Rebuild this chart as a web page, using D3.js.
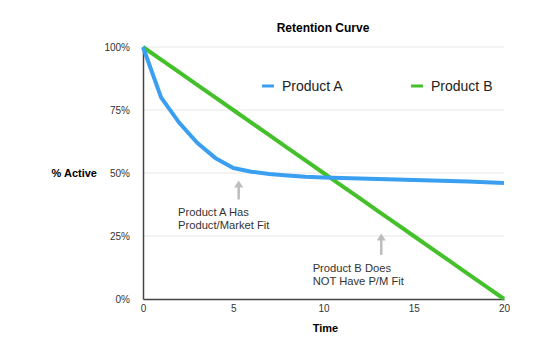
<!DOCTYPE html>
<html>
<head>
<meta charset="utf-8">
<script src="https://cdn.jsdelivr.net/npm/d3@7"></script>
<style>
  body { margin: 0; background: #fff; }
  text { font-family: "Liberation Sans", Arial, sans-serif; }
</style>
</head>
<body>
<script>
// Time steps and retention values (%)
var times = d3.range(0, 21);
var productA = [100, 80, 70, 62, 56, 52, 50.5, 49.6, 49, 48.5, 48.2, 48, 47.8, 47.6, 47.4, 47.2, 47, 46.8, 46.6, 46.3, 46];
var productB = [100, 95, 90, 85, 80, 75, 70, 65, 60, 55, 50, 45, 40, 35, 30, 25, 20, 15, 10, 5, 0];
var xTicks = [0, 5, 10, 15, 20];
var yTicks = [0, 25, 50, 75, 100];
var seriesNames = ['Product A', 'Product B'];
var seriesColors = ['#3a9ff0', '#44c12a'];

var width = 540, height = 343;
var margin = {top: 47, right: 36, bottom: 44, left: 143};

var svg = d3.select('body').append('svg')
  .attr('width', width)
  .attr('height', height);

var x = d3.scaleLinear().domain([0, 20]).range([margin.left, width - margin.right]);
var y = d3.scaleLinear().domain([0, 100]).range([height - margin.bottom, margin.top]);

// Gridlines
svg.append('g').selectAll('line')
  .data(yTicks.filter(function(d) { return d > 0; }))
  .enter().append('line')
  .attr('x1', x(0)).attr('x2', x(20))
  .attr('y1', function(d) { return y(d); })
  .attr('y2', function(d) { return y(d); })
  .attr('stroke', '#e6e6e6')
  .attr('stroke-width', 1);

// Y axis
var yAxis = svg.append('g')
  .attr('transform', 'translate(' + x(0) + ',0)')
  .call(d3.axisLeft(y).tickValues(yTicks).tickSize(0).tickPadding(13)
    .tickFormat(function(d) { return d + '%'; }));
yAxis.select('.domain').attr('stroke', '#444').attr('stroke-width', 1.5);
yAxis.selectAll('text').attr('font-size', 10).attr('fill', '#333')
  .style('font-family', '"Liberation Sans", Arial, sans-serif');

// X axis
var xAxis = svg.append('g')
  .attr('transform', 'translate(0,' + y(0) + ')')
  .call(d3.axisBottom(x).tickValues(xTicks).tickSize(0).tickPadding(6));
xAxis.select('.domain').attr('stroke', '#444').attr('stroke-width', 1.5);
xAxis.selectAll('text').attr('font-size', 10).attr('fill', '#333')
  .style('font-family', '"Liberation Sans", Arial, sans-serif');

// Lines
var line = d3.line()
  .x(function(d, i) { return x(times[i]); })
  .y(function(d) { return y(d); });

[productB, productA].forEach(function(series, k) {
  var idx = k === 0 ? 1 : 0;
  svg.append('path')
    .datum(series)
    .attr('fill', 'none')
    .attr('stroke', seriesColors[idx])
    .attr('stroke-width', 4)
    .attr('stroke-linejoin', 'round')
    .attr('d', line);
});

// Title and axis titles
svg.append('text')
  .attr('x', 323).attr('y', 32)
  .attr('text-anchor', 'middle')
  .attr('font-size', 12).attr('font-weight', 'bold')
  .text('Retention Curve');

svg.append('text')
  .attr('x', 97).attr('y', y(50) + 4)
  .attr('text-anchor', 'end')
  .attr('font-size', 11).attr('font-weight', 'bold')
  .text('% Active');

svg.append('text')
  .attr('x', x(10) + 2).attr('y', 332)
  .attr('text-anchor', 'middle')
  .attr('font-size', 11).attr('font-weight', 'bold')
  .text('Time');

// Legend
var legendX = [262, 411];
seriesNames.forEach(function(name, i) {
  var g = svg.append('g').attr('transform', 'translate(' + legendX[i] + ',86)');
  g.append('line')
    .attr('x1', 0).attr('x2', 12)
    .attr('stroke', seriesColors[i]).attr('stroke-width', 3);
  g.append('text')
    .attr('x', 20).attr('y', 5)
    .attr('font-size', 14).attr('fill', '#222')
    .text(name);
});

// Annotations
var annotations = [
  {ax: 5.3, y0: 39.5, y1: 47, tx: 1.94, lines: ['Product A Has', 'Product/Market Fit']},
  {ax: 13.2, y0: 17.5, y1: 26, tx: 9.4, lines: ['Product B Does', 'NOT Have P/M Fit']}
];

annotations.forEach(function(a) {
  var ax = x(a.ax);
  svg.append('line')
    .attr('x1', ax).attr('x2', ax)
    .attr('y1', y(a.y0)).attr('y2', y(a.y1) + 6)
    .attr('stroke', '#bdbdbd').attr('stroke-width', 2.5);
  svg.append('path')
    .attr('d', 'M' + (ax - 4.5) + ',' + (y(a.y1) + 7) + 'L' + ax + ',' + y(a.y1) + 'L' + (ax + 4.5) + ',' + (y(a.y1) + 7) + 'Z')
    .attr('fill', '#bdbdbd');
  var t = svg.append('text')
    .attr('x', x(a.tx))
    .attr('y', y(a.y0) + 17)
    .attr('font-size', 11.2).attr('fill', '#333');
  a.lines.forEach(function(l, i) {
    t.append('tspan').attr('x', x(a.tx)).attr('dy', i === 0 ? 0 : 13).text(l);
  });
});
</script>
</body>
</html>
